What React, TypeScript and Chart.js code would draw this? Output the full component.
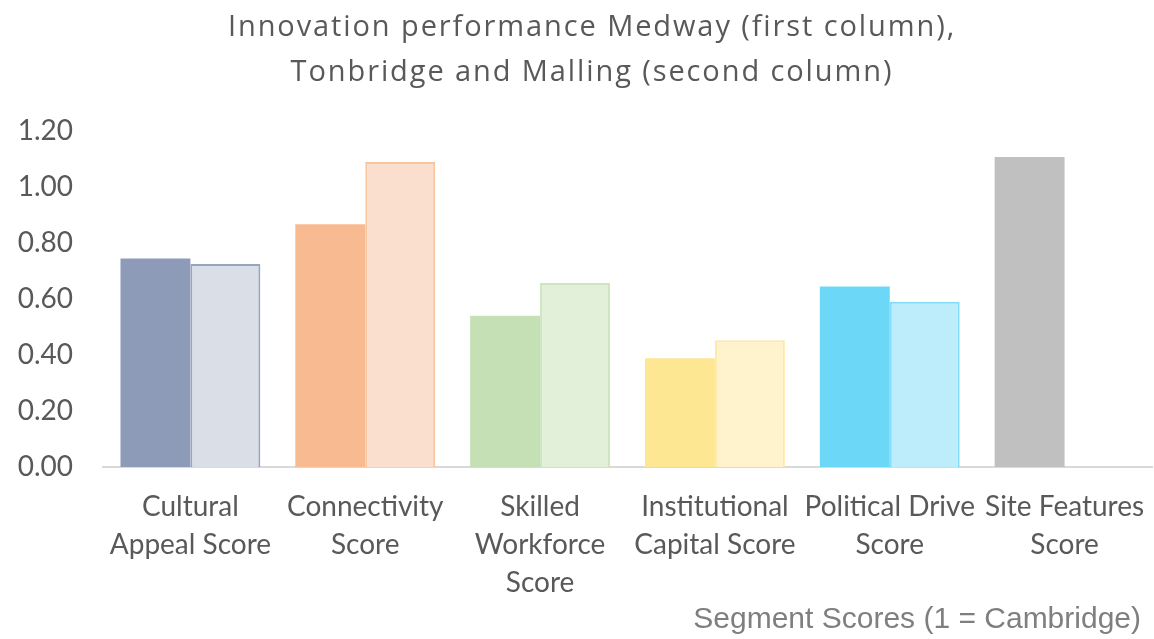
import React, { useEffect, useRef } from "react";
import { Chart, registerables } from "chart.js";

Chart.register(...registerables);

const categories: string[][] = [
  ["Cultural", "Appeal Score"],
  ["Connectivity", "Score"],
  ["Skilled", "Workforce", "Score"],
  ["Institutional", "Capital Score"],
  ["Political Drive", "Score"],
  ["Site Features", "Score"],
];
const medway: (number | null)[] = [0.745, 0.867, 0.54, 0.388, 0.645, 1.107];
const tonbridge: (number | null)[] = [0.725, 1.089, 0.657, 0.453, 0.59, null];
const yTicks: number[] = [0, 0.2, 0.4, 0.6, 0.8, 1.0, 1.2];
const titleLines: string[] = [
  "Innovation performance Medway (first column),",
  "Tonbridge and Malling (second column)",
];
const xAxisTitle = "Segment Scores (1 = Cambridge)";

const medwayColors = ["#8E9BB8", "#F8BA91", "#C4E0B4", "#FEE793", "#6DD7F8", "#C0C0C0"];
const tonbridgeFill = ["#DADEE7", "#FBDFCE", "#E2F0DA", "#FEF3CC", "#BDECFB", "#E6E6E6"];
const tonbridgeBorder = ["#97A4BF", "#F9C4A0", "#CDE6BF", "#FEE9A0", "#80DCF8", "#C0C0C0"];

const FONT = "Lato";

const textPlugin = {
  id: "extraText",
  afterDraw(chart: any) {
    const { ctx, chartArea } = chart;
    ctx.save();
    // chart title
    ctx.font = "29px 'Open Sans'";
    ctx.fillStyle = "#595959";
    ctx.textAlign = "center";
    ctx.textBaseline = "middle";
    try {
      (ctx as any).letterSpacing = "1.9px";
    } catch (e) {}
    const cx = 592;
    titleLines.forEach((line, i) => ctx.fillText(line, cx, 28 + i * 45));
    try {
      (ctx as any).letterSpacing = "0px";
    } catch (e) {}
    // axis title
    ctx.font = "30px 'Liberation Sans'";
    ctx.fillStyle = "#7F7F7F";
    ctx.textAlign = "right";
    ctx.fillText(xAxisTitle, chartArea.right - 11, 620);
    ctx.restore();
  },
};

export default function App() {
  const ref = useRef<HTMLCanvasElement | null>(null);
  useEffect(() => {
    if (!ref.current) return;
    const chart = new Chart(ref.current, {
      type: "bar",
      data: {
        labels: categories,
        datasets: [
          {
            label: "Medway",
            data: medway,
            backgroundColor: medwayColors,
            borderWidth: 0,
            categoryPercentage: 0.8,
            barPercentage: 1,
          },
          {
            label: "Tonbridge and Malling",
            data: tonbridge,
            backgroundColor: tonbridgeFill,
            borderColor: tonbridgeBorder,
            borderWidth: 2,
            categoryPercentage: 0.8,
            barPercentage: 1,
          },
        ],
      },
      plugins: [textPlugin],
      options: {
        animation: false,
        responsive: false,
        maintainAspectRatio: false,
        layout: { padding: { left: 0, right: 2, top: 131, bottom: 0 } },
        plugins: {
          legend: { display: false },
          tooltip: { enabled: false },
          title: { display: false },
        },
        scales: {
          x: {
            grid: { display: false, drawTicks: false },
            border: { display: true, color: "#D9D9D9", width: 2 },
            ticks: {
              color: "#595959",
              font: { family: FONT, size: 28, lineHeight: 1.357 },
              padding: 21,
              maxRotation: 0,
              autoSkip: false,
            },
            afterFit: (scale: any) => {
              scale.height = 172;
              scale.paddingLeft = 0;
              scale.paddingRight = 0;
            },
          },
          y: {
            min: 0,
            max: 1.2,
            afterBuildTicks: (scale: any) => {
              scale.ticks = yTicks.map((v) => ({ value: v }));
            },
            grid: { display: false, drawTicks: false },
            border: { display: false },
            ticks: {
              color: "#595959",
              font: { family: FONT, size: 28 },
              padding: 30,
              callback: (v: any) => Number(v).toFixed(2),
            },
            afterFit: (scale: any) => {
              scale.width = 103;
              scale.paddingTop = 0;
              scale.paddingBottom = 0;
            },
          },
        },
      },
    });
    return () => chart.destroy();
  }, []);
  return (
    <div style={{ position: "fixed", left: 0, top: 0, width: 1154, height: 639, background: "#fff" }}>
      <canvas ref={ref} width={1154} height={639} style={{ display: "block" }} />
    </div>
  );
}
